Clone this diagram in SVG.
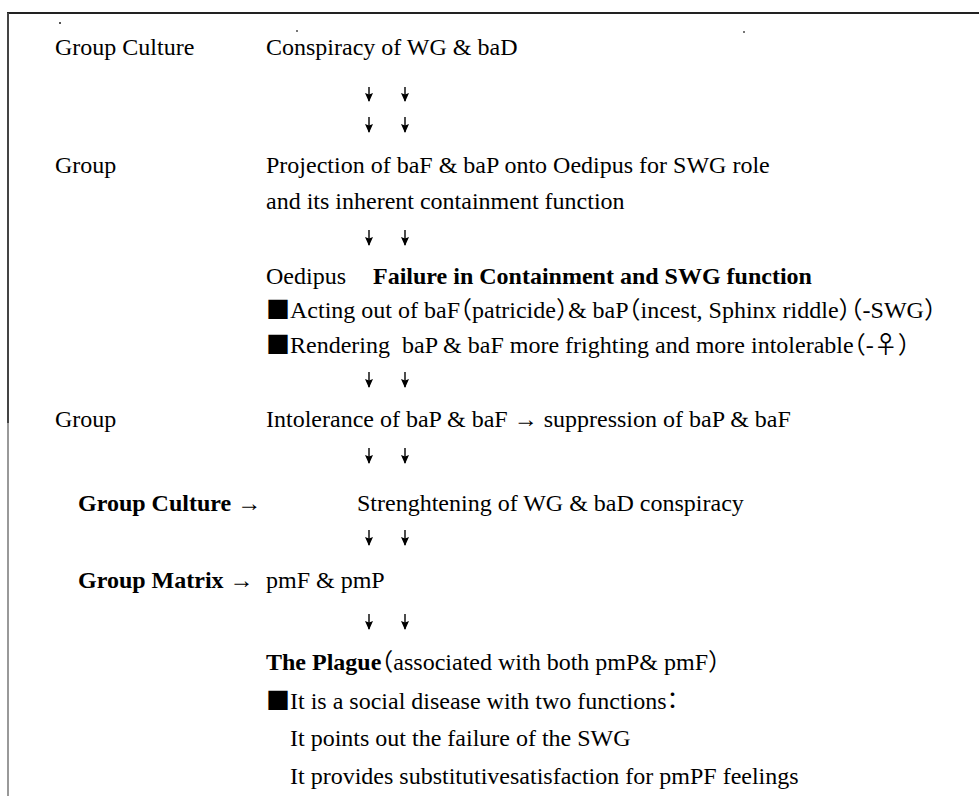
<svg xmlns="http://www.w3.org/2000/svg" width="979" height="796" viewBox="0 0 979 796">
<style>
  text { font-family: "Liberation Serif", "Times New Roman", "Noto Sans CJK JP", serif; font-size: 24px; fill: #000; }
  .b { font-weight: bold; }
  .sq { font-family: "Noto Sans CJK JP", "DejaVu Sans", sans-serif; font-size: 24px; }
  .h { font-family: "Noto Sans CJK JP", "Noto Sans CJK SC", sans-serif; font-feature-settings: "halt" 1; }
  .arr { stroke: #000; stroke-width: 1.4; fill: none; marker-end: url(#ah); }
</style>
<defs>
  <marker id="ah" viewBox="0 0 9 8" refX="8" refY="4" markerWidth="9" markerHeight="8" markerUnits="userSpaceOnUse" orient="auto">
    <path d="M0,0 L9,4 L0,8 L1.5,4 Z" fill="#000"/>
  </marker>
</defs>
<rect x="0" y="0" width="979" height="796" fill="#fff"/>
<g id="frame">
  <line x1="7" y1="13" x2="979" y2="13" stroke="#222" stroke-width="2"/>
  <line x1="8" y1="13" x2="8" y2="423" stroke="#444" stroke-width="2"/>
  <line x1="8" y1="423" x2="8" y2="796" stroke="#999" stroke-width="2"/>
  <rect x="59" y="22" width="2" height="2" fill="#555"/>
  <rect x="296" y="30" width="2" height="2" fill="#777"/>
  <rect x="743" y="31" width="2" height="2" fill="#777"/>
</g>
<g id="labels">
  <text x="55" y="55">Group Culture</text>
  <text x="55" y="173">Group</text>
  <text x="55" y="427">Group</text>
  <text x="78" y="511"><tspan class="b">Group Culture</tspan> →</text>
  <text x="78" y="588"><tspan class="b">Group Matrix</tspan> →</text>
</g>
<g id="n1"><text x="266" y="55">Conspiracy of WG &amp; baD</text></g>
<g id="n2">
  <text x="266" y="173">Projection of baF &amp; baP onto Oedipus for SWG role</text>
  <text x="266" y="209">and its inherent containment function</text>
</g>
<g id="n3">
  <text x="266" y="284">Oedipus</text>
  <text x="373" y="284" class="b">Failure in Containment and SWG function</text>
  <text x="266" y="318"><tspan class="sq">■</tspan><tspan x="290">Acting out of baF</tspan><tspan class="h">（</tspan>patricide<tspan class="h">）</tspan>&amp; baP<tspan class="h">（</tspan>incest, Sphinx riddle<tspan class="h">）（</tspan>-SWG<tspan class="h">）</tspan></text>
  <text x="266" y="353"><tspan class="sq">■</tspan><tspan x="290">Rendering &#160;baP &amp; baF more frighting and more intolerable</tspan><tspan class="h">（</tspan>-<tspan class="h">♀）</tspan></text>
</g>
<g id="n4"><text x="266" y="427">Intolerance of baP &amp; baF → suppression of baP &amp; baF</text></g>
<g id="n5"><text x="357" y="511">Strenghtening of WG &amp; baD conspiracy</text></g>
<g id="n6"><text x="266" y="588">pmF &amp; pmP</text></g>
<g id="n7">
  <text x="266" y="670"><tspan class="b">The Plague</tspan><tspan class="h">（</tspan>associated with both pmP&amp; pmF<tspan class="h">）</tspan></text>
  <text x="266" y="709"><tspan class="sq">■</tspan><tspan x="290">It is a social disease with two functions</tspan><tspan class="h">：</tspan></text>
  <text x="290" y="746">It points out the failure of the SWG</text>
  <text x="290" y="784">It provides substitutivesatisfaction for pmPF feelings</text>
</g>
<g id="connectors">
  <path class="arr" d="M369,87 V101"/><path class="arr" d="M405,87 V101"/>
  <path class="arr" d="M369,117 V132"/><path class="arr" d="M405,117 V132"/>
  <path class="arr" d="M369,230 V245"/><path class="arr" d="M405,230 V245"/>
  <path class="arr" d="M369,372 V387"/><path class="arr" d="M405,372 V387"/>
  <path class="arr" d="M369,448 V463"/><path class="arr" d="M405,448 V463"/>
  <path class="arr" d="M369,530 V545"/><path class="arr" d="M405,530 V545"/>
  <path class="arr" d="M369,614 V629"/><path class="arr" d="M405,614 V629"/>
</g>
</svg>
